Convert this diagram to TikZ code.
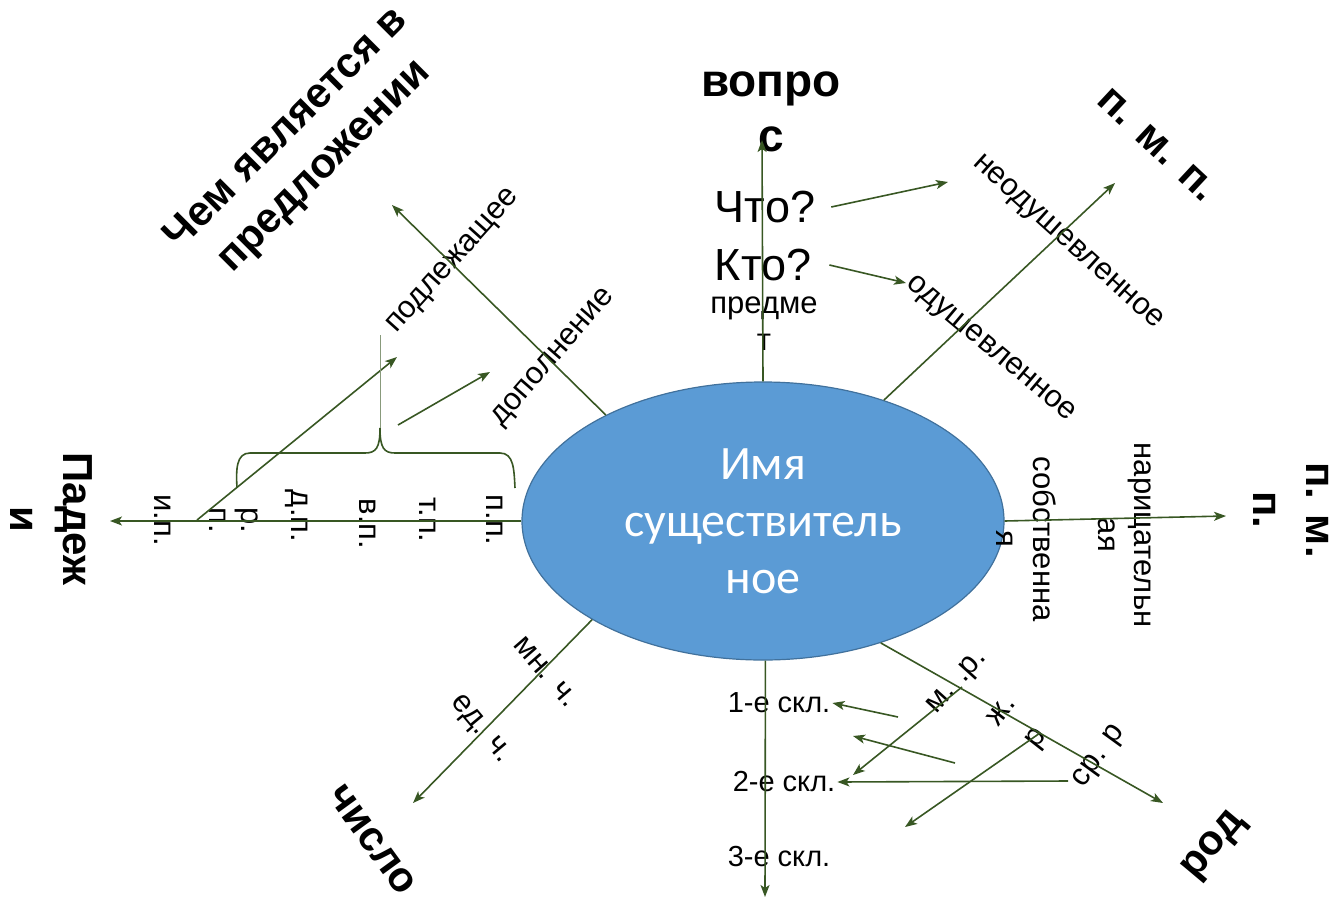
\documentclass[tikz,border=0pt]{standalone}
\usepackage{fontspec}
\setmainfont{Liberation Sans}
\newfontfamily\calibrifont{Carlito}
\usetikzlibrary{shapes,arrows.meta}
\definecolor{linegreen}{RGB}{56,87,35}
\definecolor{nounblue}{RGB}{91,155,213}
\definecolor{nounedge}{RGB}{65,113,156}

\begin{document}
\begin{tikzpicture}[x=1pt, y=-1pt, >={Stealth[length=12pt,width=9pt,inset=3pt]}]
    \tikzstyle{every node} = [inner sep=2pt, align=center]
    \tikzstyle{smalltext} = [font=\fontsize{31}{37}\selectfont]
    \tikzstyle{asktext} = [font=\fontsize{45}{54}\selectfont]
    \tikzstyle{bigtext} = [font=\fontsize{42}{53}\selectfont\bfseries]
    \tikzstyle{nounbox} = [ellipse, draw=nounedge, line width=1.2pt, fill=nounblue, text=white, minimum width=482pt, minimum height=278pt, inner sep=0pt, font=\calibrifont\fontsize{48}{57}\selectfont]
    \tikzstyle{link} = [->, draw=linegreen, line width=1.6pt]

    \useasboundingbox (0,0) rectangle (1338,902);

    \node (noun) [nounbox] at (763,521) {Имя\\существитель\\ное};

    % role in the sentence
    \node (member) [bigtext, rotate=45] at (306,148) {Чем является в\\предложении};
    \node (subject) [smalltext, rotate=48] at (454,262) {подлежащее};
    \node (object) [smalltext, rotate=49] at (554,358) {дополнение};

    % question
    \node (question) [bigtext, font=\fontsize{46}{55}\selectfont\bfseries] at (771,112) {вопро\\с};
    \node (what) [asktext] at (765,207) {Что?};
    \node (who) [asktext] at (763,265) {Кто?};
    \node (thing) [smalltext] at (764,324) {предме\\т};
    \node (inanimate) [smalltext, rotate=-42] at (1067,243) {неодушевленное};
    \node (animate) [smalltext, rotate=-40] at (990,350) {одушевленное};
    \node (constant) [bigtext, rotate=-43] at (1157,145) {п. м. п.};

    % proper / common
    \node (proper) [smalltext, rotate=-90] at (1026,539) {собственна\\я};
    \node (common) [smalltext, rotate=-90, font=\fontsize{31}{36}\selectfont] at (1125,535) {нарицательн\\ая};
    \node (variable) [bigtext, rotate=-90] at (1291,510) {п. м.\\п.};

    % gender and declension
    \node (masc) [smalltext, rotate=48] at (958,683) {м. .р.};
    \node (fem) [smalltext, rotate=52, font=\fontsize{31}{44}\selectfont] at (1021,726) {ж.\\р};
    \node (neut) [smalltext, rotate=54] at (1100,757) {ср. р};
    \node (gender) [bigtext, rotate=50] at (1215,846) {род};
    \node (decl1) [smalltext, font=\fontsize{29}{35}\selectfont] at (779,703) {1-е скл.};
    \node (decl2) [smalltext, font=\fontsize{29}{35}\selectfont] at (784,782) {2-е скл.};
    \node (decl3) [smalltext, font=\fontsize{29}{35}\selectfont] at (779,857) {3-е скл.};

    % number
    \node (plural) [smalltext, rotate=-49] at (546,672) {мн. ч.};
    \node (singular) [smalltext, rotate=-50] at (480,730) {ед. ч.};
    \node (number) [bigtext, rotate=-54] at (372,840) {число};

    % cases
    \node (cases) [bigtext, rotate=-90] at (51,519) {Падеж\\и};
    \node (nom) [smalltext, rotate=-90] at (163,520) {и.п.};
    \node (gen) [smalltext, rotate=-90, font=\fontsize{31}{32}\selectfont] at (234,520) {р.\\п.};
    \node (dat) [smalltext, rotate=-90] at (297,516) {д.п.};
    \node (acc) [smalltext, rotate=-90] at (368,524) {в.п.};
    \node (ins) [smalltext, rotate=-90] at (428,520) {т.п.};
    \node (pre) [smalltext, rotate=-90] at (495,520) {п.п.};

    \coordinate (member-tip) at (392,205);
    \coordinate (question-tip) at (762,140);
    \coordinate (what-tip) at (948,182);
    \coordinate (who-tip) at (906,283);
    \coordinate (constant-tip) at (1115,183);
    \coordinate (variable-tip) at (1226,516);
    \coordinate (gender-tip) at (1163,803);
    \coordinate (decl-tip) at (765,897);
    \coordinate (number-tip) at (413,803);
    \coordinate (cases-tip) at (110,521);
    \coordinate (nom-start) at (197,520);
    \coordinate (subject-tip) at (397,357);
    \coordinate (brace-start) at (398,425);
    \coordinate (object-tip) at (490,372);
    \coordinate (masc-start) at (962,687);
    \coordinate (masc-tip) at (853,775);
    \coordinate (fem-start) at (1040,733);
    \coordinate (fem-tip) at (905,827);
    \coordinate (neut-start) at (1068,781);
    \coordinate (one-start) at (898,717);
    \coordinate (two-start) at (955,763);
    \coordinate (two-tip) at (853,736);

    \draw [link] (noun.146) -- (member-tip);
    \draw [link] (noun.north) -- (question-tip);
    \draw [link] ([xshift=14pt]what.east) -- (what-tip);
    \draw [link] ([xshift=16pt]who.east) -- (who-tip);
    \draw [link] (noun.45) -- (constant-tip);
    \draw [link] (noun.east) -- (variable-tip);
    \draw [link] (noun.-46) -- (gender-tip);
    \draw [link] (noun.-89.5) -- (decl-tip);
    \draw [link] (noun.-150) -- (number-tip);
    \draw [link] (noun.west) -- (cases-tip);
    \draw [link] (nom-start) -- (subject-tip);
    \draw [link] (brace-start) -- (object-tip);
    \draw [link] (one-start) -- (decl1.east);
    \draw [link] (two-start) -- (two-tip);
    \draw [link] (masc-start) -- (masc-tip);
    \draw [link] (neut-start) -- (decl2.east);
    \draw [link] (fem-start) -- (fem-tip);

    % brace over the cases
    \draw [draw=linegreen, line width=1.6pt] (237,488) .. controls (236,470) and (236,453) .. (250,453) -- (365,453) .. controls (376,453) and (380,448) .. (380,428) .. controls (380,448) and (384,453) .. (395,453) -- (500,453) .. controls (514,453) and (514,470) .. (515,488);
    \draw [draw=linegreen!60, line width=0.5pt] (380,335) -- (380,428);
\end{tikzpicture}
\end{document}
